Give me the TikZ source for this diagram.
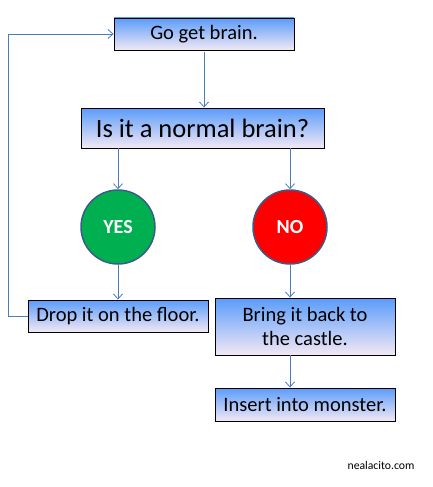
\documentclass[tikz,border=0pt]{standalone}
\usepackage{fontspec}
\setmainfont{Carlito}
\usetikzlibrary{arrows.meta,positioning}
\definecolor{boxtop}{HTML}{5A9CFA}
\definecolor{boxbot}{HTML}{F3E8F4}
\definecolor{wire}{HTML}{4A7EBB}
\definecolor{rim}{HTML}{385D8A}
\definecolor{yesgreen}{HTML}{00B050}

\begin{document}
\begin{tikzpicture}[x=1pt,y=-1pt,>={Straight Barb[length=5pt,width=9pt]},
  stepbox/.style={draw=black,line width=0.9pt,top color=boxtop,bottom color=boxbot,
    minimum width=180pt,minimum height=32pt,inner sep=0pt,font=\fontsize{20.5}{23.5}\selectfont,align=center},
  answer/.style={circle,draw=rim,line width=1.5pt,minimum size=74pt,inner sep=0pt,
    text=white,font=\fontsize{20}{22}\selectfont\bfseries},
  conn/.style={draw=wire,line width=0.8pt,->}]
\useasboundingbox (0,0) rectangle (432,487);
% boxes
\node[stepbox] (get) at (204,34) {Go get brain.};
\node[stepbox,minimum width=243pt,minimum height=40pt,font=\fontsize{26.5}{30}\selectfont] (ask) at (202.5,128) {Is it a normal brain?};
\node[answer,fill=yesgreen] (yes) at (118,227) {YES};
\node[answer,fill=red] (no) at (290,227) {NO};
\node[stepbox] (drop) at (118,316) {Drop it on the floor.};
\node[stepbox,minimum height=57pt] (back) at (305,326.5) {Bring it back to\\the castle.};
\node[stepbox,minimum height=33pt] (insert) at (305,404.5) {Insert into monster.};
% connectors
\draw[conn] (get.south) ++(0,2) -- (get.south |- ask.north);
\draw[conn] (ask.south -| yes.north) -- (yes.north);
\draw[conn] (ask.south -| no.north) -- (no.north);
\draw[conn] (yes.south) -- (yes.south |- drop.north);
\draw[conn] (no.south) -- (no.south |- back.north);
\draw[conn] (back.south -| no.south) -- (no.south |- insert.north);
\coordinate (loop) at (8,316);
\draw[conn] (drop.west) -- (loop) |- (get.west);
% credit
\node[font=\fontsize{11.7}{14}\selectfont] (credit) at (381,465) {nealacito.com};
\end{tikzpicture}
\end{document}
